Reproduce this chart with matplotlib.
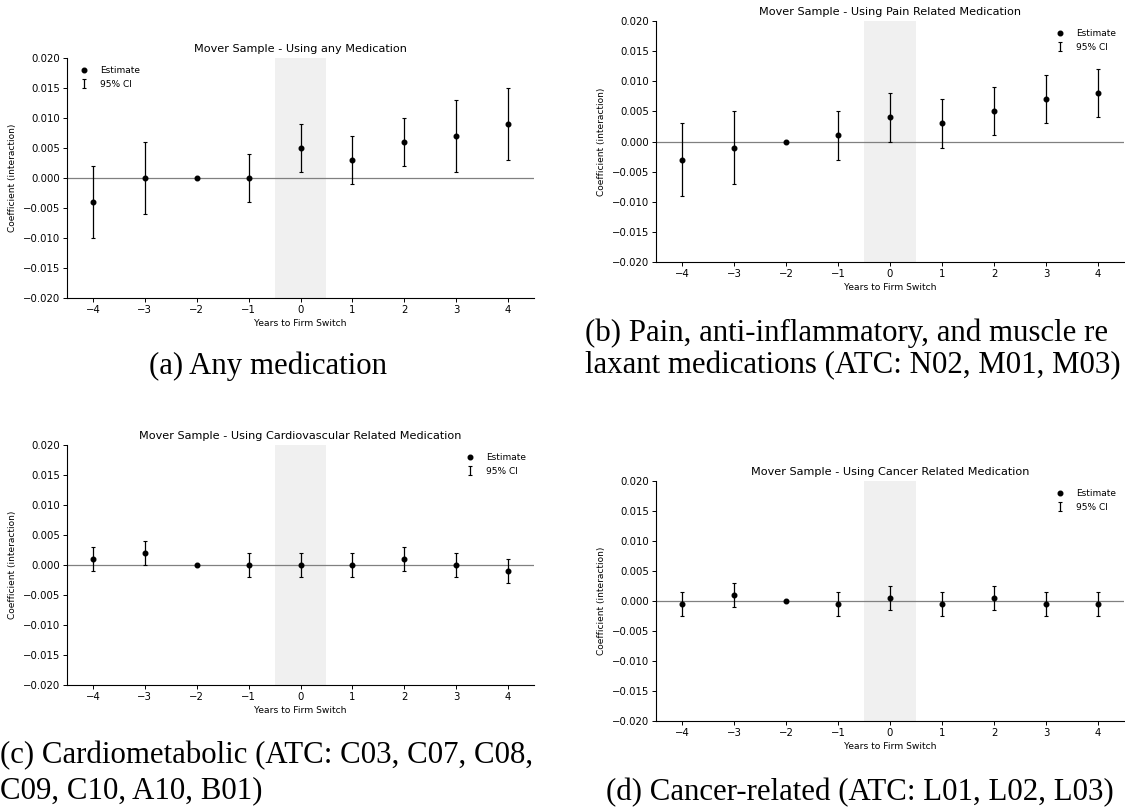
import matplotlib
matplotlib.use("Agg")
import matplotlib.pyplot as plt
import numpy as np

# ---- data ----
years = [-4, -3, -2, -1, 0, 1, 2, 3, 4]

any_est = [-0.004, 0.000, 0.000, 0.000, 0.005, 0.003, 0.006, 0.007, 0.009]
any_lo = [-0.010, -0.006, 0.000, -0.004, 0.001, -0.001, 0.002, 0.001, 0.003]
any_hi = [0.002, 0.006, 0.000, 0.004, 0.009, 0.007, 0.010, 0.013, 0.015]

pain_est = [-0.003, -0.001, 0.000, 0.001, 0.004, 0.003, 0.005, 0.007, 0.008]
pain_lo = [-0.009, -0.007, 0.000, -0.003, 0.000, -0.001, 0.001, 0.003, 0.004]
pain_hi = [0.003, 0.005, 0.000, 0.005, 0.008, 0.007, 0.009, 0.011, 0.012]

cardio_est = [0.001, 0.002, 0.000, 0.000, 0.000, 0.000, 0.001, 0.000, -0.001]
cardio_lo = [-0.001, 0.000, 0.000, -0.002, -0.002, -0.002, -0.001, -0.002, -0.003]
cardio_hi = [0.003, 0.004, 0.000, 0.002, 0.002, 0.002, 0.003, 0.002, 0.001]

cancer_est = [-0.0005, 0.001, 0.000, -0.0005, 0.0005, -0.0005, 0.0005, -0.0005, -0.0005]
cancer_lo = [-0.0025, -0.001, 0.000, -0.0025, -0.0015, -0.0025, -0.0015, -0.0025, -0.0025]
cancer_hi = [0.0015, 0.003, 0.000, 0.0015, 0.0025, 0.0015, 0.0025, 0.0015, 0.0015]

titles = [
    "Mover Sample - Using any Medication",
    "Mover Sample - Using Pain Related Medication",
    "Mover Sample - Using Cardiovascular Related Medication",
    "Mover Sample - Using Cancer Related Medication",
]
xlabel = "Years to Firm Switch"
ylabel = "Coefficient (interaction)"
yticks = [-0.020, -0.015, -0.010, -0.005, 0.000, 0.005, 0.010, 0.015, 0.020]

# ---- figure ----
W, H = 1125, 810
fig = plt.figure(figsize=(W / 100, H / 100), dpi=100)


def box(left, right, top, bottom):
    return [left / W, 1 - bottom / H, (right - left) / W, (bottom - top) / H]


positions = [
    box(67, 534, 58, 298),
    box(656, 1124, 21, 262),
    box(67, 534, 445, 685),
    box(656, 1124, 481, 721),
]
series = [
    (any_est, any_lo, any_hi, "upper left"),
    (pain_est, pain_lo, pain_hi, "upper right"),
    (cardio_est, cardio_lo, cardio_hi, "upper right"),
    (cancer_est, cancer_lo, cancer_hi, "upper right"),
]

for pos, (est, lo, hi, loc), title in zip(positions, series, titles):
    ax = fig.add_axes(pos)
    x = np.array(years, dtype=float)
    e = np.array(est)
    yerr = [e - np.array(lo), np.array(hi) - e]
    ax.axvspan(-0.5, 0.5, color="0.94", zorder=0, lw=0)
    ax.axhline(0, color="0.5", lw=0.9, zorder=1)
    ax.plot(x, e, "o", color="black", ms=3.3, label="Estimate", zorder=3)
    ax.errorbar(x, e, yerr=yerr, fmt="none", ecolor="black", elinewidth=0.9,
                capsize=1.4, capthick=0.8, label="95% CI", zorder=2)
    ax.set_xlim(-4.5, 4.5)
    ax.set_ylim(-0.02, 0.02)
    ax.set_xticks(years)
    ax.set_yticks(yticks)
    ax.tick_params(labelsize=7.3, length=2.6, width=0.7, pad=2.5)
    ax.set_title(title, fontsize=8.1, pad=4)
    ax.set_xlabel(xlabel, fontsize=6.6, labelpad=3)
    ax.set_ylabel(ylabel, fontsize=6.5, labelpad=4)
    for s in ("top", "right"):
        ax.spines[s].set_visible(False)
    for s in ("left", "bottom"):
        ax.spines[s].set_linewidth(0.8)
    ax.legend(loc=loc, frameon=False, fontsize=6.5, numpoints=1)

# ---- captions ----
cap = dict(family=["Liberation Serif", "DejaVu Serif"], fontsize=22.2)


def fx(px):
    return px / W


def fy(py):
    return 1 - py / H


fig.text(fx(268), fy(366), "(a) Any medication", ha="center", va="center", **cap)
fig.text(fx(585), fy(333), "(b) Pain, anti-inflammatory, and muscle re", ha="left", va="center", **cap)
fig.text(fx(585), fy(366), "laxant medications (ATC: N02, M01, M03)", ha="left", va="center", **cap)
fig.text(fx(0), fy(756), "(c) Cardiometabolic (ATC: C03, C07, C08,", ha="left", va="center", **cap)
fig.text(fx(0), fy(791), "C09, C10, A10, B01)", ha="left", va="center", **cap)
fig.text(fx(860), fy(793), "(d) Cancer-related (ATC: L01, L02, L03)", ha="center", va="center", **cap)

fig.savefig("out.png", dpi=100)
